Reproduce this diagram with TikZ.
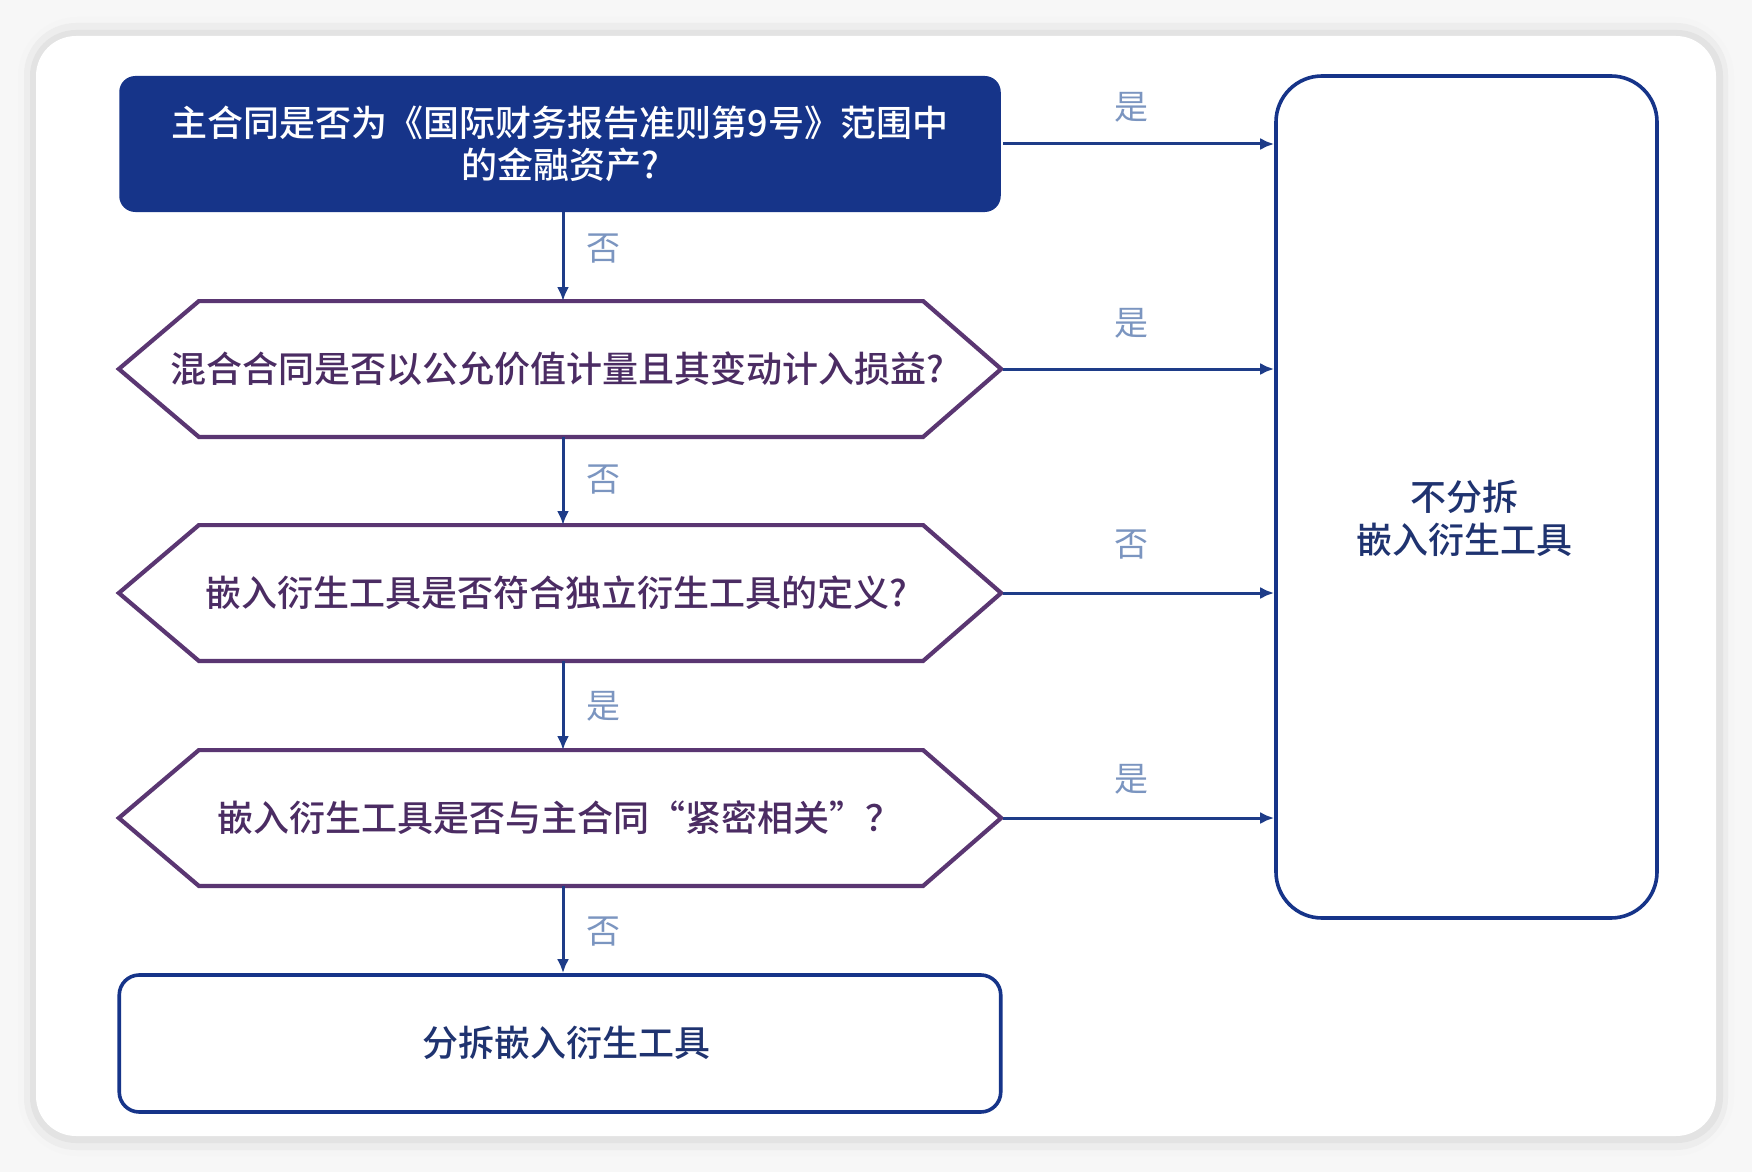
\documentclass[tikz,border=0pt]{standalone}
\usepackage{fontspec}
\setmainfont{Noto Sans CJK SC}
\newfontfamily\medfont{Noto Sans CJK SC Medium}
\usetikzlibrary{arrows.meta}
\definecolor{navy}{HTML}{163489}
\definecolor{arrowc}{HTML}{1E3C88}
\definecolor{hexline}{HTML}{5A3672}
\definecolor{hextext}{HTML}{4B2C63}
\definecolor{lblc}{HTML}{7B95C0}
\definecolor{boxtext}{HTML}{1F3370}
\definecolor{bgc}{HTML}{F7F7F7}
\tikzset{
  topbox/.style={rectangle, rounded corners=8pt, fill=navy, text=white,
    minimum width=440.75pt, minimum height=68pt, inner sep=0pt, align=center,
    font=\medfont\fontsize{18}{21}\selectfont},
  hexbox/.style={rectangle, minimum width=440.75pt, minimum height=67.5pt, inner sep=0pt,
    text=hextext, font=\medfont\fontsize{18}{21}\selectfont},
  hexdraw/.style={draw=hexline, line width=2.1pt, line join=miter, fill=white},
  endbox/.style={rectangle, draw=navy, line width=1.8pt, fill=white, inner sep=0pt},
  boxtxt/.style={text=boxtext, align=center, font=\medfont\fontsize{18}{21.5}\selectfont},
  lbl/.style={text=lblc, font=\fontsize{17}{20}\selectfont, inner sep=0pt},
  arr/.style={draw=arrowc, line width=1.5pt, -{Latex[length=7pt,width=6pt]}},
}
\begin{document}
\begin{tikzpicture}[x=0.5pt,y=-0.5pt]
\useasboundingbox (0,0) rectangle (1752,1172);
\fill[bgc] (0,0) rectangle (1752,1172);
% card shadow
\fill[black!4, rounded corners=30pt] (18,17) rectangle (1734,1156);
\fill[black!7, rounded corners=26pt] (24,23) rectangle (1728,1150);
\fill[black!11, rounded corners=23pt] (30,30) rectangle (1723,1143);
\fill[white, rounded corners=20pt] (36,36) rectangle (1716,1136);

% nodes
\node[topbox] (q0) at (560,144) {主合同是否为《国际财务报告准则第9号》范围中\\的金融资产?};
\node[hexbox] (q1) at (560,369) {};
\node[hexbox] (q2) at (560,593) {};
\node[hexbox] (q3) at (560,818) {};
\foreach \n in {q1,q2,q3}{
  \draw[hexdraw] (\n.west) -- ([xshift=40pt]\n.north west) -- ([xshift=-39pt]\n.north east)
    -- (\n.east) -- ([xshift=-39pt]\n.south east) -- ([xshift=40pt]\n.south west) -- cycle;
}
\node[hexbox] (t1) at (557,369) {混合合同是否以公允价值计量且其变动计入损益?};
\node[hexbox] (t2) at (556,593) {嵌入衍生工具是否符合独立衍生工具的定义?};
\node[hexbox] (t3) at (559,818) {嵌入衍生工具是否与主合同“紧密相关”？};

\node[endbox, rounded corners=10pt, minimum width=440.75pt, minimum height=68.5pt] (a1) at (560,1043.5) {};
\node[boxtxt] (a1t) at (566,1043) {分拆嵌入衍生工具};
\node[endbox, rounded corners=23pt, minimum width=190.5pt, minimum height=421pt] (a2) at (1466.5,497) {};
\node[boxtxt] (a2t) at (1464,518) {不分拆\\嵌入衍生工具};

% vertical connectors
\draw[arr] ([xshift=1.5pt]q0.south) -- ([xshift=1.5pt]q1.north);
\draw[arr] ([xshift=1.5pt]q1.south) -- ([xshift=1.5pt]q2.north);
\draw[arr] ([xshift=1.5pt]q2.south) -- ([xshift=1.5pt]q3.north);
\draw[arr] ([xshift=1.5pt]q3.south) -- ([xshift=1.5pt]a1.north);
\node[lbl] (v1) at (603,249) {否};
\node[lbl] (v2) at (603,480) {否};
\node[lbl] (v3) at (603,706) {是};
\node[lbl] (v4) at (603,932) {否};

% horizontal connectors
\draw[arr] ([xshift=1pt]q0.east) -- (a2.west |- q0.east);
\draw[arr] ([xshift=1pt]q1.east) -- (a2.west |- q1.east);
\draw[arr] ([xshift=1pt]q2.east) -- (a2.west |- q2.east);
\draw[arr] ([xshift=1pt]q3.east) -- (a2.west |- q3.east);
\node[lbl] (h1) at (1131,107) {是};
\node[lbl] (h2) at (1131,323) {是};
\node[lbl] (h3) at (1131,545) {否};
\node[lbl] (h4) at (1131,779) {是};
\end{tikzpicture}
\end{document}
